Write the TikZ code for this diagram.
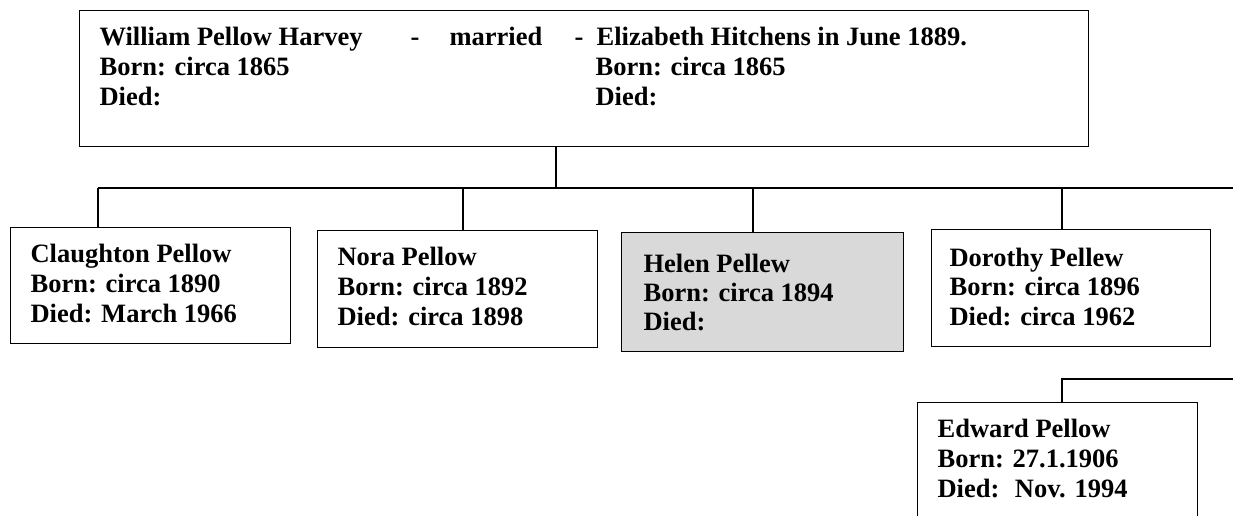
\documentclass[tikz,border=0pt]{standalone}
\usepackage{fontspec}
\setmainfont{Liberation Serif}
\usetikzlibrary{calc}

\tikzset{
  person/.style={draw, rectangle, anchor=north west, inner sep=0pt},
  entry/.style={anchor=base west, inner sep=0pt, font=\fontsize{26.5}{30}\selectfont\bfseries},
}

\begin{document}
\begin{tikzpicture}[x=1pt, y=-1pt, line width=1.2pt]
    \useasboundingbox (0,0) rectangle (1233,515);
    \clip (0,0) rectangle (1233,515);

    % parents
    \node[person, minimum width=1009pt, minimum height=136pt] (parents) at (79,10) {};
    \node[entry] (william) at (99,45) {William Pellow Harvey};
    \node[entry] (dashA) at (410,45) {-};
    \node[entry] (married) at (449,45) {married};
    \node[entry] (dashB) at (574,45) {-};
    \node[entry] (elizabeth) at (596,45) {Elizabeth Hitchens in June 1889.};
    \node[entry] (wBorn) at (99,75) {Born: circa 1865};
    \node[entry] (wDied) at (99,105) {Died:};
    \node[entry] (eBorn) at (595,75) {Born: circa 1865};
    \node[entry] (eDied) at (595,105) {Died:};

    % children
    \node[person, minimum width=280pt, minimum height=116pt] (claughton) at (10,227) {};
    \foreach \txt [count=\i from 0] in {Claughton Pellow, Born: circa 1890, Died: March 1966}
        \node[entry] (claughton-\i) at (30,262+30*\i) {\txt};

    \node[person, minimum width=280pt, minimum height=117pt] (nora) at (317,230) {};
    \foreach \txt [count=\i from 0] in {Nora Pellow, Born: circa 1892, Died: circa 1898}
        \node[entry] (nora-\i) at (337,265+30*\i) {\txt};

    \node[person, fill=gray!30, minimum width=282pt, minimum height=119pt] (helen) at (621,232) {};
    \foreach \txt [count=\i from 0] in {Helen Pellew, Born: circa 1894, Died:}
        \node[entry] (helen-\i) at (643,272+29*\i) {\txt};

    \node[person, minimum width=279pt, minimum height=117pt] (dorothy) at (931,229) {};
    \foreach \txt [count=\i from 0] in {Dorothy Pellew, Born: circa 1896, Died: circa 1962}
        \node[entry] (dorothy-\i) at (949,266+29.5*\i) {\txt};

    % grandchild
    \node[person, minimum width=280pt, minimum height=150pt] (edward) at (917,402) {};
    \foreach \txt [count=\i from 0] in {Edward Pellow, Born: 27.1.1906, Died: \ Nov. 1994}
        \node[entry] (edward-\i) at (937,437+30*\i) {\txt};

    % connectors
    \coordinate (bus) at (556,188);
    \coordinate (busL) at (98,188);
    \coordinate (busR) at (1233,188);
    \coordinate (dropN) at (463,188);
    \coordinate (dropH) at (753,188);
    \coordinate (dropD) at (1062,188);
    \coordinate (sub) at (1062,379);
    \coordinate (subR) at (1233,379);

    \draw (parents.south -| bus) -- (bus);
    \draw (busL) -- (busR);
    \draw (busL) -- (busL |- claughton.north);
    \draw (dropN) -- (dropN |- nora.north);
    \draw (dropH) -- (dropH |- helen.north);
    \draw (dropD) -- (dropD |- dorothy.north);
    \draw (subR) -- (sub) -- (sub |- edward.north);
\end{tikzpicture}
\end{document}
